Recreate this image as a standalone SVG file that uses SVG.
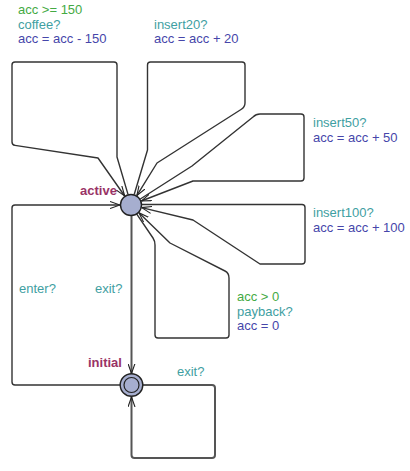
<svg xmlns="http://www.w3.org/2000/svg" width="410" height="471" viewBox="0 0 410 471">
<defs>
<style>
text{font-family:"Liberation Sans",Arial,sans-serif;font-size:13px}
.g{fill:#44aa44}.s{fill:#3fa0a2}.a{fill:#4646aa}
.n{fill:#993366;font-weight:bold}
.e{fill:none;stroke:#333;stroke-width:1.4;stroke-linejoin:round}
.t{stroke:#555;stroke-width:2}
.loc{fill:#a6aecf;stroke:#222;stroke-width:1.4}
</style>
<marker id="arr" viewBox="0 0 10 8" refX="10" refY="4" markerWidth="10" markerHeight="8" orient="auto" markerUnits="userSpaceOnUse">
<path d="M0,0.5 L10,4 L0,7.5" fill="none" stroke="#222" stroke-width="1.1"/>
</marker>
</defs>
<rect width="410" height="471" fill="#fff"/>
<g id="edges">
<path class="e" marker-end="url(#arr)" d="M128,194.4 L117,157 L117,65 Q117,62 114,62 L15,62 Q12,62 12,65 L12,142 Q12,145 15,145.4 L98,158 L124.7,196"/>
<path class="e" marker-end="url(#arr)" d="M134.2,194.5 L147.5,150 L147.5,65 Q147.5,62 150.5,62 L242,62 Q245,62 245,65 L245,103 Q245,107 241,109.5 L157,163 L136.8,195.6"/>
<path class="e" marker-end="url(#arr)" d="M140.3,199 L192,166 L253,117 Q256,114 260,114 L301,114 Q304,114 304,117 L304,178 Q304,181 301,181 L193,181 L141.3,201"/>
<path class="e" marker-end="url(#arr)" d="M142,204.5 L302,204.5 Q305,204.5 305,207.5 L305,261 Q305,264 302,264 L260,264 L193,220 L141.7,207.6"/>
<path class="e" marker-end="url(#arr)" d="M136.6,213.9 L153,238 Q155,241 155,245 L155,335 Q155,338 158,338 L226,338 Q229,338 229,335 L229,278 Q229,273 225,271 L170,243 L138.9,212.7"/>
<path class="e" marker-end="url(#arr)" d="M120,385 L15,385 Q12,385 12,382 L12,208 Q12,205 15,205 L120,205"/>
<path class="e t" marker-end="url(#arr)" d="M131.5,216 L131.5,373.5"/>
<path class="e t" marker-end="url(#arr)" d="M143,385 L212,385 Q215,385 215,388 L215,455 Q215,458 212,458 L134.5,458 Q131.5,458 131.5,455 L131.5,397"/>
</g>
<g id="labels">
<text x="18" y="14" class="g">acc &gt;= 150</text>
<text x="18" y="28.5" class="s">coffee?</text>
<text x="18" y="43" class="a">acc = acc - 150</text>
<text x="154" y="28.5" class="s">insert20?</text>
<text x="154" y="43" class="a">acc = acc + 20</text>
<text x="313" y="127" class="s">insert50?</text>
<text x="313" y="141.5" class="a">acc = acc + 50</text>
<text x="313" y="217" class="s">insert100?</text>
<text x="313" y="231.5" class="a">acc = acc + 100</text>
<text x="237" y="301" class="g">acc &gt; 0</text>
<text x="237" y="315.5" class="s">payback?</text>
<text x="237" y="330" class="a">acc = 0</text>
<text x="19" y="293" class="s">enter?</text>
<text x="95" y="293" class="s">exit?</text>
<text x="177" y="376" class="s">exit?</text>
</g>
<g id="active">
<circle class="loc" cx="131" cy="205" r="10.5"/>
<text x="80" y="195" class="n">active</text>
</g>
<g id="initial">
<circle class="loc" cx="131.5" cy="385" r="11.3"/>
<circle fill="none" stroke="#222" stroke-width="1.2" cx="131.5" cy="385" r="7.5"/>
<text x="88" y="367" class="n">initial</text>
</g>
</svg>
